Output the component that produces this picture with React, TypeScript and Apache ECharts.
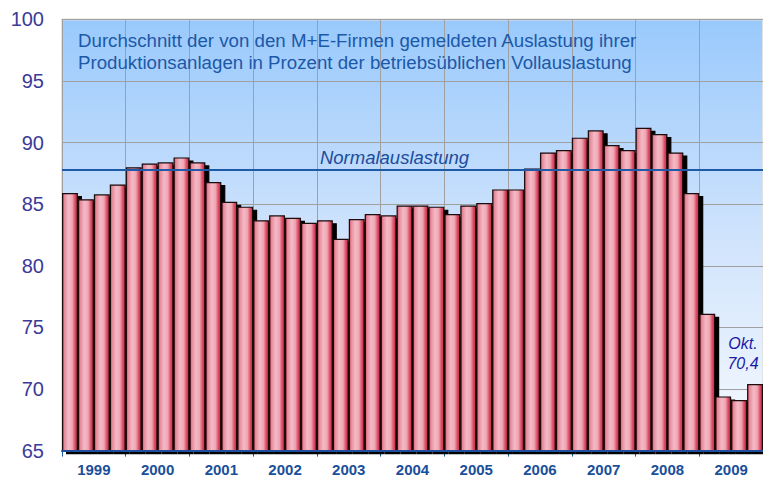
import React, { useEffect, useRef } from "react";
import * as echarts from "echarts";

const years = ["1999", "2000", "2001", "2002", "2003", "2004", "2005", "2006", "2007", "2008", "2009"];
const quarters = years.flatMap((y) => ["Q1", "Q2", "Q3", "Q4"].map((q) => `${y} ${q}`));
const utilisation = [
  85.9, 85.4, 85.8, 86.6,
  88.0, 88.3, 88.4, 88.8,
  88.4, 86.8, 85.2, 84.8,
  83.7, 84.1, 83.9, 83.5,
  83.7, 82.2, 83.8, 84.2,
  84.1, 84.9, 84.9, 84.8,
  84.2, 84.9, 85.1, 86.2,
  86.2, 87.9, 89.2, 89.4,
  90.4, 91.0, 89.8, 89.4,
  91.2, 90.7, 89.2, 85.9,
  76.1, 69.4, 69.1, 70.4,
];
const normalLevel = 87.8;
const titleLines = [
  "Durchschnitt der von den M+E-Firmen gemeldeten Auslastung ihrer",
  "Produktionsanlagen in Prozent der betriebsüblichen Vollauslastung",
];
const normalLabel = "Normalauslastung";
const lastLabel = "Okt.";

export default function App() {
  const ref = useRef<HTMLDivElement>(null);
  useEffect(() => {
    if (!ref.current) return;
    const chart = echarts.init(ref.current, null, { renderer: "svg" });
    const font = "'Liberation Sans', Arial, sans-serif";
    const barGradient = new echarts.graphic.LinearGradient(0, 0, 1, 0, [
      { offset: 0, color: "#cf4a5e" },
      { offset: 0.12, color: "#e5899a" },
      { offset: 0.4, color: "#f4bac5" },
      { offset: 0.65, color: "#efa6b3" },
      { offset: 0.85, color: "#da4a63" },
      { offset: 1, color: "#c22c44" },
    ]);
    const lastIdx = utilisation.length - 1;
    const data = utilisation.map((v, i) =>
      i === lastIdx
        ? {
            value: v,
            label: {
              show: true,
              position: "top",
              offset: [-12, -6],
              formatter: (p: any) => `${lastLabel}\n${String(p.value).replace(".", ",")}`,
              fontFamily: font,
              fontStyle: "italic",
              fontSize: 16,
              lineHeight: 20,
              color: "#1a1aa8",
              align: "center",
            },
          }
        : v
    );
    chart.setOption({
      animation: false,
      title: {
        text: titleLines.join("\n"),
        left: 73,
        top: 24,
        textStyle: {
          fontFamily: font,
          fontSize: 18.7,
          fontWeight: "normal",
          color: "#1c58a8",
          lineHeight: 22,
        },
      },
      grid: {
        left: 62,
        top: 19.4,
        width: 703,
        height: 431.2,
        show: true,
        borderWidth: 2,
        borderColor: "#e2e2e2",
        backgroundColor: new echarts.graphic.LinearGradient(0, 0, 0, 1, [
          { offset: 0, color: "#99c9fc" },
          { offset: 0.5, color: "#cfe3fc" },
          { offset: 1, color: "#f7faff" },
        ]),
      },
      xAxis: [
        {
          type: "category",
          data: quarters,
          position: "bottom",
          boundaryGap: true,
          z: 10,
          axisLine: { show: true, lineStyle: { color: "#1f4e9c", width: 2 } },
          axisTick: { show: false },
          axisLabel: { show: false },
          splitLine: { show: false },
        },
        {
          type: "category",
          data: years,
          position: "bottom",
          boundaryGap: true,
          z: 0,
          axisLine: { show: false },
          axisTick: { show: true, length: 6, lineStyle: { color: "#1f5aa6", width: 1 } },
          axisLabel: {
            fontFamily: font,
            fontSize: 15,
            fontWeight: "bold",
            color: "#1a4f9a",
            margin: 11,
          },
          splitLine: { show: true, lineStyle: { color: "#a0a0a0", width: 1 } },
        },
      ],
      yAxis: {
        type: "value",
        min: 65,
        max: 100,
        interval: 5,
        axisLine: { show: false },
        axisTick: { show: false },
        axisLabel: {
          fontFamily: font,
          fontSize: 20,
          color: "#3a3a98",
          margin: 18,
        },
        splitLine: { show: true, lineStyle: { color: "#a0a0a0", width: 1 } },
      },
      series: [
        {
          type: "bar",
          xAxisIndex: 0,
          data,
          barCategoryGap: "0%",
          itemStyle: {
            color: barGradient,
            borderColor: "#1a0a0c",
            borderWidth: 1.2,
            shadowColor: "#000000",
            shadowOffsetX: 4,
            shadowOffsetY: 3,
            shadowBlur: 0,
          },
          markLine: {
            silent: true,
            symbol: "none",
            lineStyle: { color: "#1f5aa6", width: 2, type: "solid" },
            label: {
              show: true,
              position: "insideMiddleTop",
              formatter: normalLabel,
              fontFamily: font,
              fontStyle: "italic",
              fontSize: 18.5,
              color: "#1c4c9c",
              padding: [0, 36, 0, 0],
              distance: 3,
            },
            data: [{ yAxis: normalLevel }],
          },
        },
      ],
    });
    return () => chart.dispose();
  }, []);
  return (
    <div
      ref={ref}
      style={{ position: "absolute", left: 0, top: 0, width: 763, height: 479 }}
    />
  );
}
